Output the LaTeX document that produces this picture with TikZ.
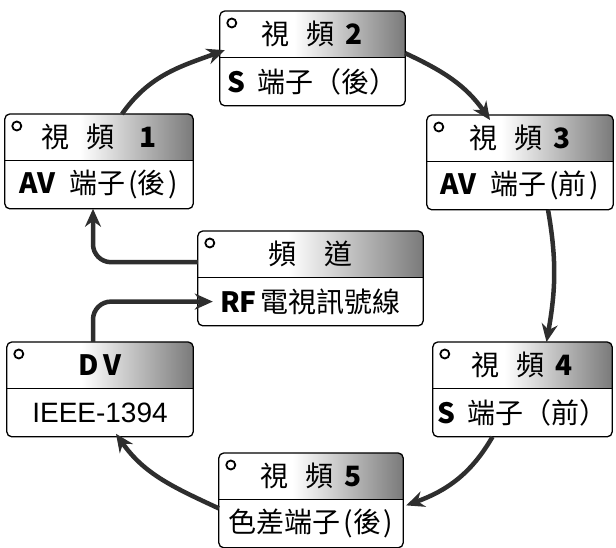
\documentclass[tikz,border=0pt]{standalone}
\usepackage{fontspec}
\setmainfont{Liberation Sans}
\newfontfamily\cjk{Noto Sans CJK TC}
\usetikzlibrary{arrows.meta, positioning, calc, backgrounds}
\definecolor{flowGray}{HTML}{2E2E2E}
\definecolor{headShade}{HTML}{7A7A7A}

\begin{document}
\begin{tikzpicture}[x=1pt, y=1pt,
    hdr/.style={anchor=north, minimum height=46pt, inner sep=0pt, font=\cjk\fontsize{28}{32}\selectfont},
    body/.style={below=0pt of #1, minimum height=48pt, inner sep=0pt, font=\cjk\fontsize{28}{32}\selectfont},
    flow/.style={-{Stealth[length=18pt, width=16pt]}, line width=4.5pt, flowGray},
]
    \useasboundingbox (0,0) rectangle (616,548);
    \clip (0,0) rectangle (616,548);

    \node[hdr, minimum width=185pt] (v2) at (312.5,537) {視\hspace{.6em}頻\hspace{.4em}{\bfseries 2}};
    \node[body=v2, minimum width=185pt] (v2-b) {{\bfseries S}\hspace{.4em}端子（後）};
    \node[hdr, minimum width=188pt] (v1) at (99,434) {視\hspace{.6em}頻\hspace{.9em}{\bfseries 1}};
    \node[body=v1, minimum width=188pt] (v1-b) {{\bfseries AV}\hspace{.5em}端子\hspace{.1em}(後\hspace{.1em})};
    \node[hdr, minimum width=186pt] (v3) at (520,433) {視\hspace{.6em}頻\hspace{.4em}{\bfseries 3}};
    \node[body=v3, minimum width=186pt] (v3-b) {{\bfseries AV}\hspace{.5em}端子\hspace{.1em}(前\hspace{.1em})};
    \node[hdr, minimum width=225pt] (ch) at (310.5,317) {頻\hspace{1em}道};
    \node[body=ch, minimum width=225pt] (ch-b) {{\bfseries RF}\hspace{.15em}電視訊號線};
    \node[hdr, minimum width=186pt] (dv) at (100,206) {{\bfseries D\hspace{.15em}V}};
    \node[body=dv, minimum width=186pt] (dv-b) {{\rmfamily IEEE-1394}};
    \node[hdr, minimum width=179pt] (v4) at (522.5,206) {視\hspace{.6em}頻\hspace{.4em}{\bfseries 4}};
    \node[body=v4, minimum width=179pt] (v4-b) {{\bfseries S}\hspace{.4em}端子（前）};
    \node[hdr, minimum width=184pt] (v5) at (311,95) {視\hspace{.6em}頻\hspace{.4em}{\bfseries 5}};
    \node[body=v5, minimum width=184pt] (v5-b) {色差端子\hspace{.1em}(後\hspace{.1em})};

    % shaded heads behind the text
    \begin{scope}[on background layer]
        \foreach \n in {v1,v2,v3,v4,v5,ch,dv}{
            \begin{scope}
                \clip[rounded corners=5pt] (\n.north west) rectangle (\n-b.south east);
                \shade[left color=white, right color=headShade] ($(\n.north west)!0.4!(\n.north east)$) rectangle (\n.south east);
            \end{scope}
        }
    \end{scope}

    % box frames and small rings
    \foreach \n in {v1,v2,v3,v4,v5,ch,dv}{
        \draw[line width=1.3pt, rounded corners=5pt] (\n.north west) rectangle (\n-b.south east);
        \draw[line width=1pt] (\n.south west) -- (\n.south east);
        \draw[line width=1.8pt] ([shift={(12pt,-12pt)}]\n.north west) circle (4.5pt);
    }

    \draw[flow] ([xshift=23pt]v1.north) to[out=55, in=200] ([shift={(5pt,-16pt)}]v2.west);
    \draw[flow] ([yshift=-19pt]v2.east) to[out=-25, in=125] ([shift={(-30pt,-5pt)}]v3.north);
    \draw[flow] ([xshift=28pt]v3-b.south) to[out=-80, in=80] ([xshift=24pt]v4.north);
    \draw[flow] ([xshift=-30pt]v4-b.south) to[out=240, in=20] ([shift={(3pt,-6pt)}]v5.south east);
    \draw[flow] ([yshift=-9pt]v5.south west) to[out=155, in=-55] ([shift={(16pt,3pt)}]dv-b.south);
    \draw[flow, rounded corners=18pt] ([yshift=-8pt]ch.west) -| ([xshift=-6pt]v1-b.south);
    \draw[flow, rounded corners=18pt] ([xshift=-7pt]dv.north) |- ([xshift=15pt]ch-b.west);
\end{tikzpicture}
\end{document}
